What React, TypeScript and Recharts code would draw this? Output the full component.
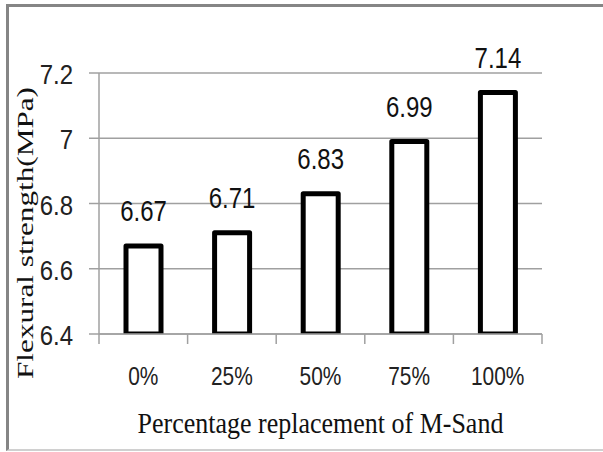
import React from "react";
import { BarChart, Bar, XAxis, YAxis, CartesianGrid, LabelList } from "recharts";

const categories = ["0%", "25%", "50%", "75%", "100%"];
const strength = [6.67, 6.71, 6.83, 6.99, 7.14];
const yTicks = [6.4, 6.6, 6.8, 7, 7.2];

const data = categories.map((c, i) => ({ name: c, value: strength[i] }));

const W = 603;
const H = 452;
const margin = { top: 73, right: 61, left: 39, bottom: 88 };
const plotWidth = W - margin.left - 60 - margin.right;
const halfBand = plotWidth / categories.length / 2;

const sansFont = "'Liberation Sans', Arial, sans-serif";
const serifFont = "'Liberation Serif', 'Times New Roman', serif";

const YTick = (props: any) => {
  const { x, y, payload } = props;
  return (
    <g transform={`translate(${x - 14},${y + 11}) scale(1,1.15)`}>
      <text x={0} y={0} textAnchor="end" fontSize={24} fontFamily={sansFont} fill="#222">
        {String(payload.value)}
      </text>
    </g>
  );
};

const XTick = (props: any) => {
  const { x, y, payload, index } = props;
  const axisY = y - 12;
  return (
    <g>
      <line x1={x - halfBand} x2={x - halfBand} y1={axisY} y2={axisY + 10} stroke="#a0a0a0" strokeWidth={1.5} />
      {index === categories.length - 1 && (
        <line x1={x + halfBand} x2={x + halfBand} y1={axisY} y2={axisY + 10} stroke="#a0a0a0" strokeWidth={1.5} />
      )}
      <g transform={`translate(${x},${axisY + 51}) scale(0.95,1.15)`}>
        <text x={0} y={0} textAnchor="middle" fontSize={22} fontFamily={sansFont} fill="#222">
          {payload.value}
        </text>
      </g>
    </g>
  );
};

const ValueLabel = (props: any) => {
  const { x, y, width, value } = props;
  return (
    <g transform={`translate(${x + width / 2},${y - 25}) scale(1,1.2)`}>
      <text x={0} y={0} textAnchor="middle" fontSize={24} fontFamily={sansFont} fill="#111">
        {String(value)}
      </text>
    </g>
  );
};

const XTitle = (props: any) => {
  const vb = props.viewBox || { x: 0, y: 0, width: 0 };
  return (
    <g transform={`translate(${vb.x + vb.width / 2},${vb.y + 99}) scale(1,1.15)`}>
      <text x={0} y={0} textAnchor="middle" fontSize={26} fontFamily={serifFont} fill="#111">
        Percentage replacement of M-Sand
      </text>
    </g>
  );
};

const YTitle = (props: any) => {
  const vb = props.viewBox || { x: 0, y: 0, height: 0 };
  return (
    <g transform={`translate(33,${vb.y + 160}) rotate(-90) scale(1.3,1)`}>
      <text x={0} y={0} textAnchor="middle" fontSize={24} fontFamily={serifFont} fill="#111">
        Flexural strength(MPa)
      </text>
    </g>
  );
};

export default function App() {
  return (
    <div style={{ position: "fixed", left: 0, top: 0, width: W, height: H, background: "#fff", overflow: "hidden" }}>
      <div style={{ position: "absolute", left: 0, top: 0 }}>
        <BarChart width={W} height={H} data={data} margin={margin} barCategoryGap={0}>
          <CartesianGrid vertical={false} stroke="#a0a0a0" strokeWidth={1.5} />
          <XAxis
            dataKey="name"
            height={30}
            axisLine={{ stroke: "#a0a0a0", strokeWidth: 1.5 }}
            tickLine={false}
            tickSize={10}
            tickMargin={2}
            tick={<XTick />}
            interval={0}
            label={{ content: <XTitle /> } as any}
          />
          <YAxis
            width={60}
            domain={[6.4, 7.2]}
            ticks={yTicks}
            allowDataOverflow
            axisLine={{ stroke: "#a0a0a0", strokeWidth: 1.5 }}
            tickLine={{ stroke: "#a0a0a0", strokeWidth: 1.5 }}
            tickSize={10}
            tickMargin={2}
            tick={<YTick />}
            label={{ content: <YTitle /> } as any}
          />
          <Bar
            dataKey="value"
            fill="#fff"
            stroke="#000"
            strokeWidth={5}
            strokeLinejoin="round"
            barSize={35}
            isAnimationActive={false}
          >
            <LabelList dataKey="value" content={<ValueLabel />} />
          </Bar>
        </BarChart>
      </div>
      <div
        style={{
          position: "absolute",
          left: 6,
          top: 4,
          width: 620,
          height: 447,
          boxSizing: "border-box",
          borderTop: "3px solid #858585",
          borderLeft: "3px solid #858585",
          borderBottom: "2px solid #d0d0d0",
          zIndex: 5,
          pointerEvents: "none",
        }}
      />
    </div>
  );
}
